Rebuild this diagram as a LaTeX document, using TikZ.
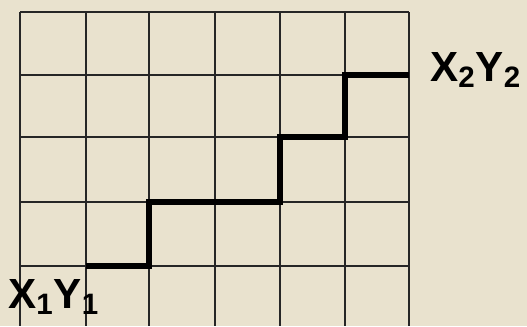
\documentclass[tikz,border=0pt]{standalone}
\usepackage{fontspec}
\setmainfont{Liberation Sans}
\usepackage{tikz}
\definecolor{paper}{RGB}{233,226,206}

\begin{document}
\begin{tikzpicture}[x=0.02cm,y=-0.02cm,
    gridline/.style={draw=black!85,line width=0.8pt},
    route/.style={line width=3pt,line join=miter},
    endlabel/.style={font=\bfseries\fontsize{24}{24}\selectfont,inner sep=0pt,anchor=base west}]
\fill[paper] (0,0) rectangle (527,326);
\useasboundingbox (0,0) rectangle (527,326);
% grid
\foreach \x in {20,86,149,215,280,345,409}
  \draw[gridline] (\x,12) -- (\x,326);
\foreach \y in {12,75,137,202,266}
  \draw[gridline] (20,\y) -- (409,\y);
% staircase route
\coordinate (start) at (86,266);
\coordinate (s1) at (149,202);
\coordinate (s2) at (280,137);
\coordinate (s3) at (345,75);
\coordinate (goal) at (409,75);
\draw[route] (start) -| (s1) -| (s2) -| (s3) -- (goal);
\node[endlabel] (p1) at (8,308) {X\textsubscript{1}Y\textsubscript{1}};
\node[endlabel] (p2) at (430,81) {X\textsubscript{2}Y\textsubscript{2}};
\end{tikzpicture}
\end{document}
